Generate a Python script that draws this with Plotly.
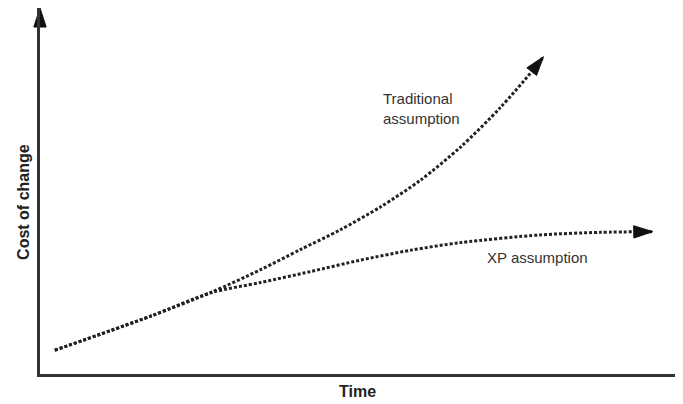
import plotly.graph_objects as go

# Conceptual data (time vs cost of change)
trad_time = [2.3, 17.2, 26.6, 34.3, 40.5, 46.7, 53.0, 59.2, 65.4, 71.6, 76.6, 78.3]
trad_cost = [6.5, 15.8, 22.3, 28.5, 34.0, 39.4, 45.7, 53.0, 62.0, 72.8, 82.9, 86.7]

xp_time = [2.3, 17.2, 26.6, 34.3, 42.1, 49.8, 57.6, 65.4, 77.8, 87.1, 95.3]
xp_cost = [6.5, 15.8, 22.2, 25.0, 28.0, 31.1, 33.8, 35.9, 38.0, 38.7, 38.9]

x_title = "Time"
y_title = "Cost of change"
trad_label = ["Traditional", "assumption"]
xp_label = "XP assumption"

FONT = "Liberation Sans Narrow, Liberation Sans, Arial, sans-serif"
INK = "#222222"
HEAD = "#111111"
AXIS = "#333333"

fig = go.Figure()


def curve(tx, cy):
    return go.Scatter(
        x=tx, y=cy, mode="lines",
        line=dict(color=INK, width=3, dash="3px,2px", shape="spline", smoothing=0.8),
        cliponaxis=False, hoverinfo="skip", showlegend=False,
    )


def head(tx, cy):
    # arrowhead at the last point, oriented from the point before it
    return go.Scatter(
        x=tx[-2:], y=cy[-2:], mode="markers",
        marker=dict(symbol="arrow", size=[0, 20], color=HEAD, angleref="previous",
                    opacity=1, line=dict(width=1, color=HEAD)),
        cliponaxis=False, hoverinfo="skip", showlegend=False,
    )


fig.add_trace(curve(trad_time, trad_cost))
fig.add_trace(curve(xp_time, xp_cost))
fig.add_trace(head(trad_time, trad_cost))
fig.add_trace(head(xp_time, xp_cost))

# axis arrowheads
fig.add_trace(go.Scatter(
    x=[0, 101.4], y=[100, 0], mode="markers",
    marker=dict(symbol="arrow", size=20, color=HEAD, angle=[0, 90],
                line=dict(width=1, color=HEAD)),
    cliponaxis=False, hoverinfo="skip", showlegend=False,
))

ax_common = dict(range=[0, 100], showline=True, linecolor=AXIS, linewidth=3,
                 showgrid=False, zeroline=False, showticklabels=False, ticks="",
                 fixedrange=True)

lab_font = dict(family=FONT, size=15, color="#333333")
title_font = dict(family=FONT, size=16, color=INK, weight="bold")

# the page adds an 8px body margin, so the figure is 8px smaller on each axis
fig.update_layout(
    width=675, height=396,
    margin=dict(l=32, r=0, t=0, b=30),
    paper_bgcolor="white", plot_bgcolor="white",
    xaxis=ax_common, yaxis=ax_common,
    font=lab_font,
    annotations=[
        dict(x=53.1, y=75.3, xref="x", yref="y", text=trad_label[0], showarrow=False,
             xanchor="left", yanchor="middle", font=lab_font),
        dict(x=53.1, y=69.9, xref="x", yref="y", text=trad_label[1], showarrow=False,
             xanchor="left", yanchor="middle", font=lab_font),
        dict(x=77.3, y=31.9, xref="x", yref="y", text=xp_label, showarrow=False,
             xanchor="center", yanchor="middle", font=lab_font),
        dict(x=0.494, y=-0.047, xref="paper", yref="paper", text=x_title,
             showarrow=False, xanchor="center", yanchor="middle", font=title_font),
        dict(x=-0.025, y=0.47, xref="paper", yref="paper", text=y_title,
             showarrow=False, xanchor="center", yanchor="middle", textangle=-90,
             font=title_font),
    ],
)

fig.write_html("out.html")
